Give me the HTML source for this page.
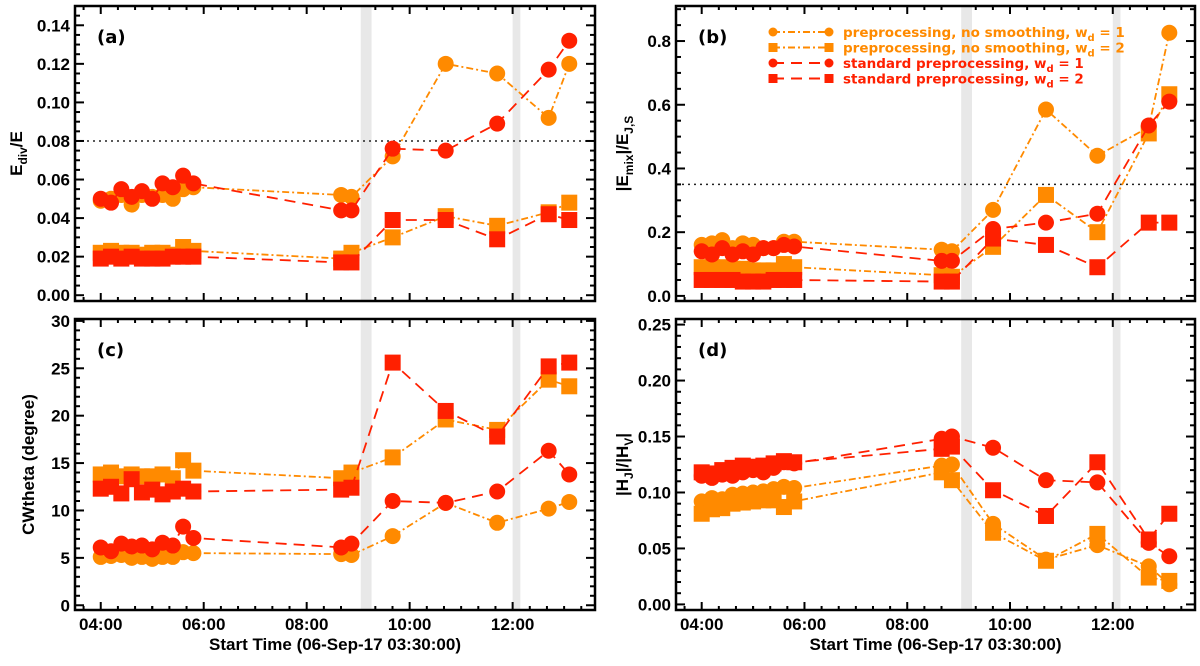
<!DOCTYPE html>
<html><head><meta charset="utf-8"><style>
html,body{margin:0;padding:0;background:#fff;}
svg{display:block;font-family:"Liberation Sans",sans-serif;}
</style></head><body>
<svg id="chart" width="1200" height="666" viewBox="0 0 1200 666" xmlns="http://www.w3.org/2000/svg"></svg>
<script>
const times = [4.0,4.2,4.4,4.6,4.8,5.0,5.2,5.4,5.6,5.8,8.67,8.87,9.67,10.7,11.7,12.7,13.1];
const xTicks = [4,6,8,10,12];
const xTickLabels = ["04:00","06:00","08:00","10:00","12:00"];
const bands = [[9.05,9.26],[12.0,12.15]];
// panel a
const aOrangeCirc = [0.049,0.050,0.052,0.047,0.052,0.051,0.052,0.050,0.055,0.056,0.052,0.051,0.072,0.120,0.115,0.092,0.120];
const aOrangeSq = [0.022,0.023,0.022,0.022,0.021,0.022,0.022,0.021,0.025,0.023,0.019,0.022,0.030,0.041,0.036,0.043,0.048];
const aRedCirc = [0.050,0.048,0.055,0.051,0.054,0.050,0.058,0.056,0.062,0.058,0.044,0.044,0.076,0.075,0.089,0.117,0.132];
const aRedSq = [0.019,0.020,0.019,0.020,0.019,0.019,0.019,0.020,0.020,0.020,0.017,0.017,0.039,0.039,0.029,0.042,0.039];
const aTicks = [0,0.02,0.04,0.06,0.08,0.10,0.12,0.14];
const aTickLabels = ["0.00","0.02","0.04","0.06","0.08","0.10","0.12","0.14"];
// panel b
const bOrangeCirc = [0.16,0.165,0.175,0.15,0.165,0.16,0.15,0.15,0.17,0.17,0.145,0.14,0.27,0.585,0.44,0.53,0.826];
const bOrangeSq = [0.09,0.09,0.09,0.085,0.085,0.08,0.08,0.08,0.10,0.09,0.065,0.06,0.154,0.317,0.20,0.51,0.633];
const bRedCirc = [0.14,0.13,0.15,0.13,0.14,0.13,0.15,0.15,0.16,0.155,0.11,0.11,0.21,0.23,0.258,0.535,0.61];
const bRedSq = [0.05,0.05,0.05,0.05,0.045,0.045,0.045,0.05,0.05,0.05,0.045,0.045,0.18,0.16,0.09,0.23,0.23];
const bTicks = [0,0.2,0.4,0.6,0.8];
const bTickLabels = ["0.0","0.2","0.4","0.6","0.8"];
// panel c
const cOrangeCirc = [5.1,5.2,5.3,5.0,5.1,4.9,5.1,5.1,5.6,5.5,5.4,5.3,7.3,10.8,8.7,10.2,10.9];
const cOrangeSq = [13.8,14.0,13.6,13.8,13.6,13.6,13.8,13.4,15.3,14.2,13.4,14.0,15.6,19.6,18.5,23.8,23.1];
const cRedCirc = [6.1,5.7,6.5,6.2,6.3,5.9,6.6,6.3,8.3,7.1,6.1,6.5,11.0,10.8,12.0,16.3,13.8];
const cRedSq = [12.3,12.5,11.8,13.3,11.9,12.2,11.7,12.0,12.3,12.0,12.2,12.4,25.6,20.5,17.8,25.2,25.6];
const cTicks = [0,5,10,15,20,25,30];
const cTickLabels = ["0","5","10","15","20","25","30"];
// panel d
const dOrangeCirc = [0.092,0.095,0.094,0.098,0.099,0.100,0.101,0.103,0.105,0.104,0.124,0.125,0.072,0.040,0.053,0.034,0.018];
const dOrangeSq = [0.081,0.085,0.086,0.090,0.091,0.092,0.093,0.093,0.087,0.092,0.118,0.111,0.064,0.039,0.063,0.024,0.021];
const dRedCirc = [0.115,0.113,0.116,0.115,0.118,0.120,0.118,0.122,0.127,0.126,0.148,0.150,0.140,0.111,0.109,0.055,0.043];
const dRedSq = [0.118,0.117,0.120,0.122,0.124,0.123,0.124,0.126,0.128,0.127,0.139,0.141,0.102,0.079,0.127,0.058,0.081];
const dTicks = [0,0.05,0.10,0.15,0.20,0.25];
const dTickLabels = ["0.00","0.05","0.10","0.15","0.20","0.25"];

const NS="http://www.w3.org/2000/svg";
const svg=document.getElementById('chart');
const ORANGE="#ff8a00", RED="#ff2000";
function el(tag,attrs,parent){const e=document.createElementNS(NS,tag);for(const k in attrs)e.setAttribute(k,attrs[k]);(parent||svg).appendChild(e);return e;}

function panel(cfg){
  const g=el('g',{});
  
  
  const L=cfg.x0,R=cfg.x1,T=cfg.y0,B=cfg.y1;
  const xs=t=>L+(t-3.5)/(13.6-3.5)*(R-L);
  const ys=v=>B-(v-cfg.ymin)/(cfg.ymax-cfg.ymin)*(B-T);
  bands.forEach(bd=>{
    const r=el('rect',{x:xs(bd[0]),y:T,width:xs(bd[1])-xs(bd[0]),height:B-T,fill:'#e8e8e8'},g);
    
    
  });
  if(cfg.ref!==undefined){
    const l=el('line',{x1:L,x2:R,y1:ys(cfg.ref),y2:ys(cfg.ref),stroke:'#222','stroke-width':1.5,'stroke-dasharray':'2,4'},g);
    
    
  }
  const series=[
    {d:cfg.oc,c:ORANGE,dash:'7,3,2,3',m:'circ',n:'preproc-wd1'},
    {d:cfg.os,c:ORANGE,dash:'7,3,2,3',m:'sq',n:'preproc-wd2'},
    {d:cfg.rc,c:RED,dash:'11,7',m:'circ',n:'standard-wd1'},
    {d:cfg.rs,c:RED,dash:'11,7',m:'sq',n:'standard-wd2'}];
  series.forEach(s=>{
    const sg=el('g',{},g);
    
    
    const pts=s.d.map((v,i)=>xs(times[i]).toFixed(1)+','+ys(v).toFixed(1)).join(' ');
    el('polyline',{points:pts,fill:'none',stroke:s.c,'stroke-width':1.8,'stroke-dasharray':s.dash},sg);
    s.d.forEach((v,i)=>{
      let mk;
      if(s.m==='circ') mk=el('circle',{cx:xs(times[i]),cy:ys(v),r:8,fill:s.c},sg);
      else mk=el('rect',{x:xs(times[i])-8,y:ys(v)-8,width:16,height:16,fill:s.c},sg);
      
      
    });
  });
  // frame
  const fr=el('rect',{x:L,y:T,width:R-L,height:B-T,fill:'none',stroke:'#000','stroke-width':2.5},g);
  
  
  // x ticks
  for(let t=3.5;t<=13.6;t+=1/3){
    const tt=Math.round(t*3)/3; const major=Math.abs(tt-Math.round(tt))<0.01&&Math.round(tt)%2===0;
    const len=major?8:4, x=xs(tt);
    if(x<L+1||x>R-1)continue;
    el('line',{x1:x,x2:x,y1:B,y2:B-len,stroke:'#000','stroke-width':2},g);
    el('line',{x1:x,x2:x,y1:T,y2:T+len,stroke:'#000','stroke-width':2},g);
  }
  if(cfg.xlabels){
    xTicks.forEach((t,i)=>{
      const tx=el('text',{x:xs(t),y:B+20,'text-anchor':'middle','font-size':17,'font-weight':'bold'},g);
      tx.textContent=xTickLabels[i];
      
      
    });
    const xt=el('text',{x:(L+R)/2,y:B+40,'text-anchor':'middle','font-size':17,'font-weight':'bold'},g);
    xt.textContent='Start Time (06-Sep-17 03:30:00)';
    
    
  }
  // y ticks
  const step=cfg.ticks[1]-cfg.ticks[0], mstep=step/cfg.minor;
  for(let v=cfg.ticks[0]-step;v<=cfg.ymax+1e-9;v+=mstep){
    const y=ys(v); if(y<T+1||y>B-1)continue;
    const major=Math.abs((v-cfg.ticks[0])/step-Math.round((v-cfg.ticks[0])/step))<1e-6;
    const len=major?9:5;
    el('line',{x1:L,x2:L+len,y1:y,y2:y,stroke:'#000','stroke-width':2},g);
    el('line',{x1:R,x2:R-len,y1:y,y2:y,stroke:'#000','stroke-width':2},g);
  }
  cfg.ticks.forEach((v,i)=>{
    const tx=el('text',{x:L-5,y:ys(v)+6,'text-anchor':'end','font-size':17,'font-weight':'bold'},g);
    tx.textContent=cfg.labels[i];
    
    
  });
  const yt=el('text',{transform:`translate(${cfg.ytx},${(T+B)/2}) rotate(-90)`,'text-anchor':'middle','font-size':17,'font-weight':'bold'},g);
  yt.innerHTML=cfg.ytitle;
  
  
  const pl=el('text',{x:L+22,y:T+37,'font-size':18,'font-weight':'bold','font-family':'DejaVu Sans, sans-serif'},g);
  pl.textContent='('+cfg.id+')';
  
  
  return {xs,ys};
}

panel({id:'a',x0:75,x1:595,y0:6,y1:301,ymin:-0.003,ymax:0.15,ticks:aTicks,labels:aTickLabels,minor:4,ref:0.08,
  oc:aOrangeCirc,os:aOrangeSq,rc:aRedCirc,rs:aRedSq,ytx:22,ytitle:'E<tspan font-size="12" dy="5">div</tspan><tspan dy="-5">/E</tspan>'});
panel({id:'b',x0:676,x1:1195,y0:6,y1:301,ymin:-0.016,ymax:0.91,ticks:bTicks,labels:bTickLabels,minor:4,ref:0.35,
  oc:bOrangeCirc,os:bOrangeSq,rc:bRedCirc,rs:bRedSq,ytx:628,ytitle:'|E<tspan font-size="12" dy="5">mix</tspan><tspan dy="-5">|/E</tspan><tspan font-size="12" dy="5">J,S</tspan>'});
panel({id:'c',x0:75,x1:595,y0:319,y1:610,ymin:-0.5,ymax:30.2,ticks:cTicks,labels:cTickLabels,minor:5,xlabels:true,
  oc:cOrangeCirc,os:cOrangeSq,rc:cRedCirc,rs:cRedSq,ytx:34,ytitle:'CWtheta (degree)'});
panel({id:'d',x0:676,x1:1195,y0:319,y1:610,ymin:-0.005,ymax:0.255,ticks:dTicks,labels:dTickLabels,minor:5,xlabels:true,
  oc:dOrangeCirc,os:dOrangeSq,rc:dRedCirc,rs:dRedSq,ytx:628,ytitle:'|H<tspan font-size="12" dy="5">J</tspan><tspan dy="-5">|/|H</tspan><tspan font-size="12" dy="5">V</tspan><tspan dy="-5">|</tspan>'});

// legend
const legend=el('g',{});


const legText=['preprocessing, no smoothing, w','preprocessing, no smoothing, w','standard preprocessing, w','standard preprocessing, w'];
const legVal=['1','2','1','2'];
const legCol=[ORANGE,ORANGE,RED,RED];
const legDash=['7,3,2,3','7,3,2,3','11,7','11,7'];
const legMark=['circ','sq','circ','sq'];
legText.forEach((t,i)=>{
  const y=32+i*15.5;
  const eg=el('g',{},legend);
  
  
  el('line',{x1:773,x2:829,y1:y,y2:y,stroke:legCol[i],'stroke-width':2,'stroke-dasharray':legDash[i]},eg);
  [773,829].forEach(x=>{
    if(legMark[i]==='circ') el('circle',{cx:x,cy:y,r:4.5,fill:legCol[i]},eg);
    else el('rect',{x:x-4.5,y:y-4.5,width:9,height:9,fill:legCol[i]},eg);
  });
  const tx=el('text',{x:843,y:y+5,'font-size':13.5,'font-weight':'bold',fill:legCol[i],'font-family':'DejaVu Sans, sans-serif'},eg);
  tx.innerHTML=t+'<tspan font-size="10" dy="4">d</tspan><tspan dy="-4"> = '+legVal[i]+'</tspan>';
});
</script>
</body></html>
